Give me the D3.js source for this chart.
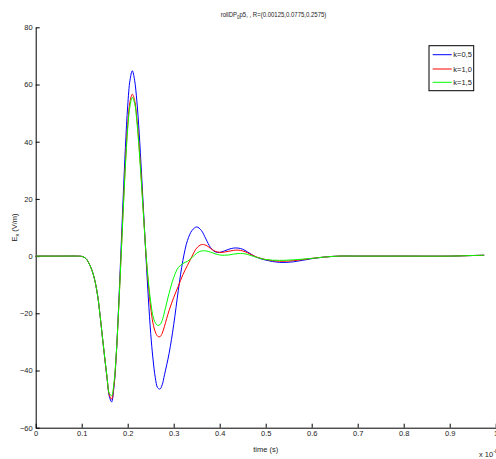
<!DOCTYPE html>
<html>
<head>
<meta charset="utf-8">
<script src="https://cdn.jsdelivr.net/npm/d3@7"></script>
<style>
  html, body { margin: 0; padding: 0; background: #fff; }
  svg { display: block; }
  text { font-family: 'Liberation Sans Narrow', 'Arial Narrow', 'Liberation Sans', sans-serif; fill: #222; }
</style>
</head>
<body>
<script>
// ---- data ----
const time = [0, 0.05, 0.09,
  0.10, 0.105, 0.11, 0.115, 0.12, 0.125, 0.13, 0.135, 0.14, 0.145, 0.15, 0.155, 0.16, 0.165, 0.17, 0.175,
  0.18, 0.185, 0.19, 0.195, 0.20, 0.205, 0.21, 0.215, 0.22, 0.225, 0.23, 0.235, 0.24, 0.245, 0.25, 0.255,
  0.26, 0.265, 0.27, 0.275, 0.28,
  0.29, 0.30, 0.31, 0.32, 0.33, 0.34, 0.35, 0.36, 0.37, 0.38, 0.39, 0.40, 0.41, 0.42, 0.43, 0.44, 0.45,
  0.46, 0.47, 0.48,
  0.50, 0.53, 0.56, 0.60, 0.63, 0.66, 0.70, 0.80, 0.90, 0.95, 0.975];

const k05 = [0, 0, 0,
  -0.1, -0.4, -1, -2.3, -4, -6.3, -9.6, -14.2, -20.8, -28.3, -35.5, -42.5, -49, -51, -46, -35,
  -18.5, 0.5, 20, 38, 52.5, 61.5, 64.8, 61.5, 54, 43, 29, 14, -1, -15, -27, -36,
  -42.5, -46, -46.5, -45, -41.5,
  -34, -24, -12, -1.5, 5.5, 9, 10.2, 9, 6, 3, 1.5, 1.3, 1.8, 2.4, 2.8, 2.8, 2.4,
  1.5, 0.5, -0.4,
  -1.4, -2.2, -2, -0.9, -0.3, 0, 0, 0, 0, 0.2, 0.3];

const k10 = [0, 0, 0,
  -0.1, -0.4, -1, -2.3, -4, -6.3, -9.6, -14.2, -20.8, -28.3, -35.5, -42.5, -48.5, -50, -45.4, -35,
  -19.5, -2, 16, 32.5, 46, 54, 56.6, 54.5, 48, 38, 26, 13, 0, -10, -18, -23.5,
  -26.5, -28, -28.2, -27, -24.5,
  -19, -14.5, -10.5, -6.5, -3.2, 0, 2.8, 4, 3.8, 2.7, 1.7, 1.3, 1.4, 1.7, 2, 2.1, 1.8,
  1.2, 0.4, -0.3,
  -1.2, -1.8, -1.6, -0.8, -0.3, 0, 0, 0, 0, 0.2, 0.3];

const k15 = [0, 0, 0,
  -0.1, -0.4, -1, -2.3, -4, -6.3, -9.6, -14.2, -20.8, -28.3, -35.3, -42, -48, -48.8, -44.5, -34.5,
  -19.5, -2.5, 15, 31.5, 44.5, 52.5, 55.5, 53.5, 47, 37, 25, 12.5, 0.5, -9, -16, -21,
  -23.3, -24.2, -24, -22.5, -19.5,
  -13, -7.5, -4, -2.6, -1.8, -0.5, 1, 1.8, 1.8, 1.4, 0.8, 0.4, 0.3, 0.4, 0.7, 0.9, 0.9,
  0.6, 0.1, -0.4,
  -1.2, -1.5, -1.3, -0.8, -0.3, 0, 0, 0, 0, 0.2, 0.3];

const seriesNames = ["k=0,5", "k=1,0", "k=1,5"];
const seriesColors = ["#0000ff", "#ff0000", "#00ff00"];
const xTicks = [0, 0.1, 0.2, 0.3, 0.4, 0.5, 0.6, 0.7, 0.8, 0.9, 1];
const yTicks = [-60, -40, -20, 0, 20, 40, 60, 80];

// ---- layout ----
const W = 496, H = 459;
const svg = d3.select("body").append("svg").attr("width", W).attr("height", H);

const x = d3.scaleLinear().domain([0, 1]).range([35.7, 495.7]);
const y = d3.scaleLinear().domain([-60, 80]).range([427.7, 27.3]);

const fontSize = "7.5px";

// Axes
const yAxis = d3.axisLeft(y).tickValues(yTicks).tickSizeInner(-4).tickSizeOuter(0).tickPadding(3)
  .tickFormat(d3.format("d"));
const gy = svg.append("g").attr("transform", `translate(${x(0)},0)`).call(yAxis);
gy.select(".domain").attr("stroke", "#000").attr("stroke-width", 1);
gy.selectAll(".tick line").attr("stroke", "#000");
gy.selectAll(".tick text").style("font-size", fontSize).attr("fill", "#222");

const xAxis = d3.axisBottom(x).tickValues(xTicks).tickSizeInner(-4).tickSizeOuter(0).tickPadding(3)
  .tickFormat(d => d === 0 ? "0" : d === 1 ? "1" : d3.format(".1f")(d));
const gx = svg.append("g").attr("transform", `translate(0,${y(-60)})`).call(xAxis);
gx.select(".domain").attr("stroke", "#000").attr("stroke-width", 1);
gx.selectAll(".tick line").attr("stroke", "#000");
gx.selectAll(".tick text").style("font-size", fontSize).attr("fill", "#222");

// Lines
const allSeries = [k05, k10, k15];
const line = d3.line().curve(d3.curveCatmullRom.alpha(0.5))
  .x((d, i) => x(time[i])).y(d => y(d));
allSeries.forEach((s, i) => {
  svg.append("path").datum(s).attr("d", line)
    .attr("fill", "none").attr("stroke", seriesColors[i]).attr("stroke-width", 1);
});

// Title (condensed by horizontal scaling to match the narrow original font)
const tg = svg.append("g");
const title = tg.append("text").attr("x", 0).attr("y", 0).style("font-size", "8px");
title.append("tspan").text("rollDP");
title.append("tspan").attr("dy", 2.5).style("font-size", "6px").text("0");
title.append("tspan").attr("dy", -2.5).text("p5, , R=(0.00125,0.0775,0.2575)");
const tw = title.node().getBBox().width;
const targetW = 106;
const sx = targetW / tw;
tg.attr("transform", `translate(${273.7 - targetW / 2},16.5) scale(${sx},1)`);

// Axis labels
svg.append("text").attr("x", 265.7).attr("y", 452).attr("text-anchor", "middle")
  .style("font-size", fontSize).text("time (s)");

const yl = svg.append("text").attr("transform", "translate(17,227.5) rotate(-90)")
  .attr("text-anchor", "middle").style("font-size", fontSize);
yl.append("tspan").text("E");
yl.append("tspan").attr("dy", 2).style("font-size", "5.5px").text("x");
yl.append("tspan").attr("dy", -2).text("  (V/m)");

const ex = svg.append("text").attr("x", 479).attr("y", 457).style("font-size", fontSize);
ex.append("tspan").text("x 10");
ex.append("tspan").attr("dy", -4).style("font-size", "5.5px").text("-8");

// Legend
const lg = svg.append("g");
lg.append("rect").attr("x", 429).attr("y", 45.7).attr("width", 44.7).attr("height", 45)
  .attr("fill", "#fff").attr("stroke", "#000").attr("stroke-width", 1);
const legY = [54.7, 69, 82.3];
seriesNames.forEach((n, i) => {
  lg.append("line").attr("x1", 432.7).attr("x2", 451.7).attr("y1", legY[i]).attr("y2", legY[i])
    .attr("stroke", seriesColors[i]).attr("stroke-width", 1);
  lg.append("text").attr("x", 453.3).attr("y", legY[i] + 2.7).style("font-size", fontSize).text(n);
});
</script>
</body>
</html>
